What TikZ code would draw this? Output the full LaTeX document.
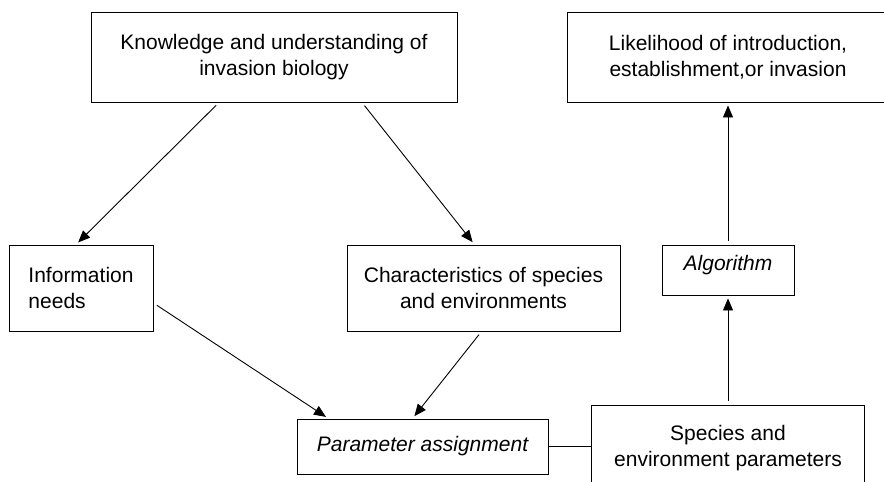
\documentclass[tikz,border=0pt]{standalone}
\usepackage{fontspec}
\setmainfont{Liberation Sans}
\usetikzlibrary{arrows.meta}

\begin{document}
\begin{tikzpicture}[x=1pt,y=-1pt,
  box/.style={draw, line width=0.9pt, align=center, inner sep=0pt,
              font=\fontsize{21}{25.5}\selectfont},
  arr/.style={line width=0.9pt, -{Triangle[length=12pt,width=10pt]},
              shorten <=4pt, shorten >=3pt}]
  \useasboundingbox (0,0) rectangle (884,482);
  % top row
  \node[box, minimum width=366pt, minimum height=90pt] (know) at (274,57)
    {Knowledge and understanding of\\invasion biology};
  \node[box, minimum width=322pt, minimum height=90pt] (likely) at (728,57)
    {Likelihood of introduction,\\establishment,or invasion};
  % middle row
  \node[box, align=left, minimum width=144pt, minimum height=86pt] (info) at (81,288)
    {Information\\needs};
  \node[box, minimum width=273pt, minimum height=86pt] (charac) at (483.5,288)
    {Characteristics of species\\and environments};
  \node[box, text height=7pt, text depth=7pt, minimum width=132pt, minimum height=50pt] (algo) at (728,270)
    {\itshape Algorithm};
  % bottom row
  \node[box, minimum width=251pt, minimum height=55pt] (param) at (422.5,446.5)
    {\itshape Parameter assignment};
  \node[box, minimum width=273pt, minimum height=86pt] (spec) at (728,448)
    {Species and\\environment parameters};

  \draw[arr] ([xshift=-55pt]know.south) -- ([xshift=-5pt]info.north);
  \draw[arr] ([xshift=88pt]know.south) -- ([xshift=-9pt]charac.north);
  \draw[arr] ([yshift=-15pt]info.east) -- ([xshift=-94pt]param.north);
  \draw[arr] ([xshift=-2pt]charac.south) -- ([xshift=-10pt]param.north);
  \draw[line width=0.9pt] (param.east) -- (param.east -| spec.west);
  \draw[arr] (spec.north) -- (algo.south);
  \draw[arr] (algo.north) -- (likely.south);
\end{tikzpicture}
\end{document}
